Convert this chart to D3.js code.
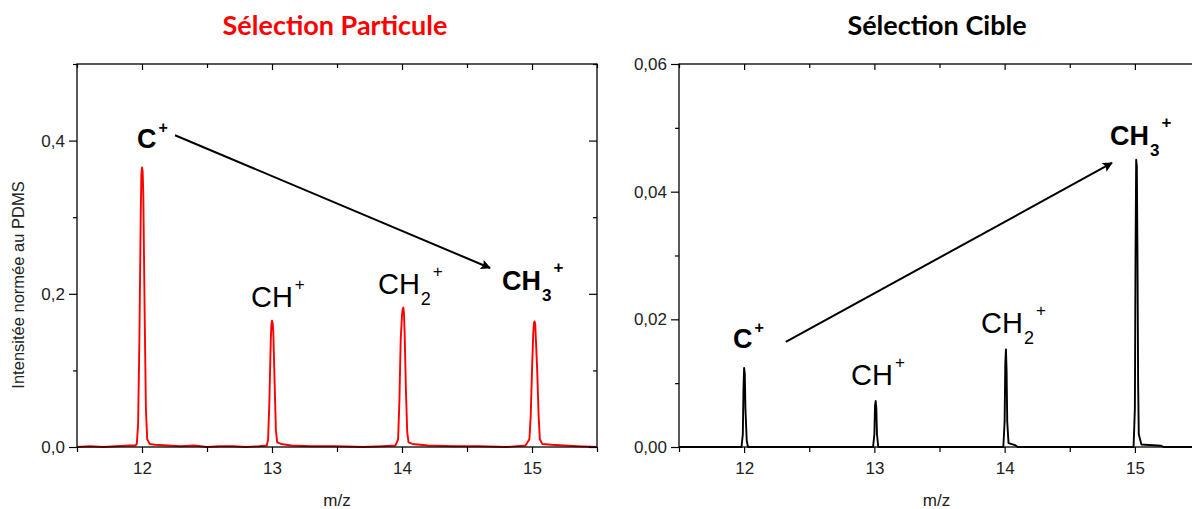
<!DOCTYPE html>
<html><head><meta charset="utf-8">
<script src="https://d3js.org/d3.v7.min.js"></script>
<style>body{margin:0;background:#fff}svg{display:block}</style>
</head><body>
<svg id="c" width="1192" height="509"></svg>
<script>
// ---------- data ----------
const xTicks = [12, 13, 14, 15];
const xMinorTicks = [11.5, 12.5, 13.5, 14.5, 15.5];
const yTicksParticule = [0, 0.2, 0.4];
const yMinorParticule = [0.1, 0.3, 0.5];
const yTicksCible = [0, 0.02, 0.04, 0.06];
const yMinorCible = [0.01, 0.03, 0.05];

const titles = ["Sélection Particule", "Sélection Cible"];
const xTitle = "m/z";
const yTitle = "Intensitée normée au PDMS";

const particuleMz = [11.50, 11.60, 11.70, 11.80, 11.90, 11.95, 11.96, 11.97, 11.98, 11.99, 11.995, 12.00, 12.005, 12.01, 12.02, 12.03, 12.04, 12.06, 12.10, 12.20, 12.30, 12.40, 12.50, 12.60, 12.70, 12.80, 12.90, 12.96, 12.97, 12.98, 12.99, 12.995, 13.00, 13.005, 13.01, 13.02, 13.03, 13.04, 13.07, 13.15, 13.30, 13.50, 13.70, 13.85, 13.95, 13.97, 13.98, 13.99, 14.00, 14.005, 14.01, 14.015, 14.02, 14.03, 14.04, 14.05, 14.08, 14.20, 14.40, 14.60, 14.80, 14.95, 14.98, 14.99, 15.00, 15.01, 15.015, 15.02, 15.025, 15.03, 15.04, 15.05, 15.06, 15.08, 15.15, 15.25, 15.35, 15.50];
const particuleInt = [0.000, 0.001, 0.000, 0.001, 0.002, 0.002, 0.004, 0.030, 0.140, 0.300, 0.355, 0.365, 0.360, 0.330, 0.180, 0.050, 0.010, 0.004, 0.003, 0.002, 0.001, 0.002, 0.000, 0.001, 0.001, 0.000, 0.001, 0.002, 0.010, 0.060, 0.135, 0.160, 0.165, 0.162, 0.150, 0.085, 0.022, 0.006, 0.004, 0.002, 0.001, 0.001, 0.000, 0.001, 0.002, 0.010, 0.060, 0.140, 0.172, 0.180, 0.182, 0.175, 0.150, 0.075, 0.020, 0.006, 0.004, 0.002, 0.001, 0.001, 0.000, 0.002, 0.010, 0.040, 0.100, 0.150, 0.162, 0.164, 0.160, 0.140, 0.100, 0.045, 0.010, 0.004, 0.003, 0.002, 0.001, 0.000];

const cibleMz = [11.50, 11.98, 11.99, 11.995, 12.00, 12.005, 12.01, 12.02, 12.03, 12.99, 13.00, 13.005, 13.01, 13.015, 13.02, 13.03, 13.99, 14.00, 14.005, 14.01, 14.015, 14.02, 14.03, 14.08, 14.10, 14.99, 15.00, 15.005, 15.01, 15.015, 15.02, 15.025, 15.03, 15.05, 15.20, 15.22, 15.50];
const cibleInt = [0, 0, 0.002, 0.009, 0.0124, 0.0115, 0.006, 0.001, 0, 0, 0.002, 0.0065, 0.0072, 0.006, 0.002, 0, 0, 0.004, 0.013, 0.0153, 0.012, 0.004, 0.0006, 0.0003, 0, 0, 0.006, 0.030, 0.045, 0.044, 0.030, 0.010, 0.002, 0.0004, 0.0002, 0, 0];

const ionBase = ["C", "CH", "CH", "CH"];
const ionSub = ["", "", "2", "3"];
const ionSup = ["+", "+", "+", "+"];

// ---------- layout ----------
const svg = d3.select("#c");
const FONT = "'Liberation Sans', Arial, sans-serif";
const plotTop = 64, plotBottom = 447;

const panels = [
  {
    x0: 77, x1: 597, yMax: 0.5, color: "#ff0000", titleColor: "#ff0000", titleX: 335,
    mz: particuleMz, it: particuleInt, ticks: yTicksParticule, minor: yMinorParticule,
    fmt: d => d3.format(".1f")(d).replace(".", ","),
    showYTitle: true,
    labelPos: [[11.962, 0.390], [12.838, 0.1828], [13.815, 0.1997], [14.769, 0.2050]],
    bold: [true, false, false, true],
    arrow: [[12.254, 0.407], [14.677, 0.2337]]
  },
  {
    x0: 679, x1: 1200, yMax: 0.06, color: "#000000", titleColor: "#000000", titleX: 937,
    mz: cibleMz, it: cibleInt, ticks: yTicksCible, minor: yMinorCible,
    fmt: d => d3.format(".2f")(d).replace(".", ","),
    showYTitle: false,
    labelPos: [[11.915, 0.01551], [12.821, 0.00971], [13.819, 0.01786], [14.809, 0.04731]],
    bold: [true, false, false, true],
    arrow: [[12.32, 0.01645], [14.824, 0.0445]]
  }
];

svg.append("defs").append("marker")
  .attr("id", "arr").attr("viewBox", "0 0 10 10").attr("refX", 9).attr("refY", 5)
  .attr("markerWidth", 13).attr("markerHeight", 10).attr("markerUnits", "userSpaceOnUse")
  .attr("orient", "auto")
  .append("path").attr("d", "M0,0 L10,5 L0,10 L2,5 Z").attr("fill", "#000");

panels.forEach((p, pi) => {
  const x = d3.scaleLinear().domain([11.5, 15.5]).range([p.x0, p.x1]);
  const y = d3.scaleLinear().domain([0, p.yMax]).range([plotBottom, plotTop]);
  const g = svg.append("g");

  g.append("text").attr("x", p.titleX).attr("y", 35).attr("text-anchor", "middle")
    .attr("font-family", "Lato, 'Open Sans', sans-serif").attr("font-weight", "bold")
    .attr("font-size", 27).attr("fill", p.titleColor).text(titles[pi]);

  const line = d3.line().x((d, i) => x(p.mz[i])).y(d => y(d));
  g.append("path").datum(p.it).attr("d", line).attr("fill", "none")
    .attr("stroke", p.color).attr("stroke-width", 1.9).attr("stroke-linejoin", "round");

  g.append("rect").attr("x", p.x0).attr("y", plotTop).attr("width", p.x1 - p.x0)
    .attr("height", plotBottom - plotTop).attr("fill", "none").attr("stroke", "#000").attr("stroke-width", 1.3);

  const styleAxis = sel => {
    sel.select(".domain").remove();
    sel.selectAll("line").attr("stroke", "#000").attr("stroke-width", 1.2);
    sel.selectAll("text").attr("font-family", FONT).attr("font-size", 17).attr("fill", "#222");
  };

  g.append("g").attr("transform", `translate(0,${plotBottom})`)
    .call(d3.axisBottom(x).tickValues(xTicks).tickSize(6).tickPadding(9).tickFormat(d3.format("d"))).call(styleAxis);
  g.append("g").attr("transform", `translate(0,${plotBottom})`)
    .call(d3.axisBottom(x).tickValues(xMinorTicks).tickSize(5).tickFormat("")).call(styleAxis);
  g.append("g").attr("transform", `translate(0,${plotTop})`)
    .call(d3.axisBottom(x).tickValues(xTicks).tickSize(6).tickFormat("")).call(styleAxis);
  g.append("g").attr("transform", `translate(0,${plotTop})`)
    .call(d3.axisBottom(x).tickValues(xMinorTicks).tickSize(4).tickFormat("")).call(styleAxis);
  g.append("g").attr("transform", `translate(${p.x0},0)`)
    .call(d3.axisLeft(y).tickValues(p.ticks).tickSize(8).tickPadding(4).tickFormat(p.fmt)).call(styleAxis);
  g.append("g").attr("transform", `translate(${p.x0},0)`)
    .call(d3.axisLeft(y).tickValues(p.minor).tickSize(4).tickFormat("")).call(styleAxis);
  g.append("g").attr("transform", `translate(${p.x1},0)`)
    .call(d3.axisLeft(y).tickValues(p.ticks).tickSize(8).tickFormat("")).call(styleAxis);
  g.append("g").attr("transform", `translate(${p.x1},0)`)
    .call(d3.axisLeft(y).tickValues(p.minor).tickSize(4).tickFormat("")).call(styleAxis);

  g.append("text").attr("x", (x(11.5) + x(15.5)) / 2 - (pi === 1 ? 3 : 0)).attr("y", 506).attr("text-anchor", "middle")
    .attr("font-family", FONT).attr("font-size", 17).attr("fill", "#222").text(xTitle);

  if (p.showYTitle) {
    g.append("text").attr("transform", "translate(24,285) rotate(-90)").attr("text-anchor", "middle")
      .attr("font-family", FONT).attr("font-size", 16.5).attr("fill", "#222").text(yTitle);
  }

  ionBase.forEach((b, i) => {
    const bold = p.bold[i];
    const [lm, lv] = p.labelPos[i];
    const t = g.append("text").attr("x", x(lm)).attr("y", y(lv))
      .attr("font-family", FONT).attr("font-weight", bold ? "bold" : "normal")
      .attr("font-size", bold ? 27 : 29).attr("fill", "#000");
    t.append("tspan").text(b);
    let dyUp = b === "C" ? -15 : -17;
    if (ionSub[i]) {
      t.append("tspan").attr("dy", 11).attr("dx", 1).attr("font-size", bold ? 17 : 18).text(ionSub[i]);
      dyUp = -28;
    }
    t.append("tspan").attr("dy", dyUp).attr("dx", 2).attr("font-size", b === "C" ? 16 : 17).text(ionSup[i]);
  });

  g.append("line")
    .attr("x1", x(p.arrow[0][0])).attr("y1", y(p.arrow[0][1]))
    .attr("x2", x(p.arrow[1][0])).attr("y2", y(p.arrow[1][1]))
    .attr("stroke", "#000").attr("stroke-width", 2).attr("marker-end", "url(#arr)");
});
</script>
</body></html>
